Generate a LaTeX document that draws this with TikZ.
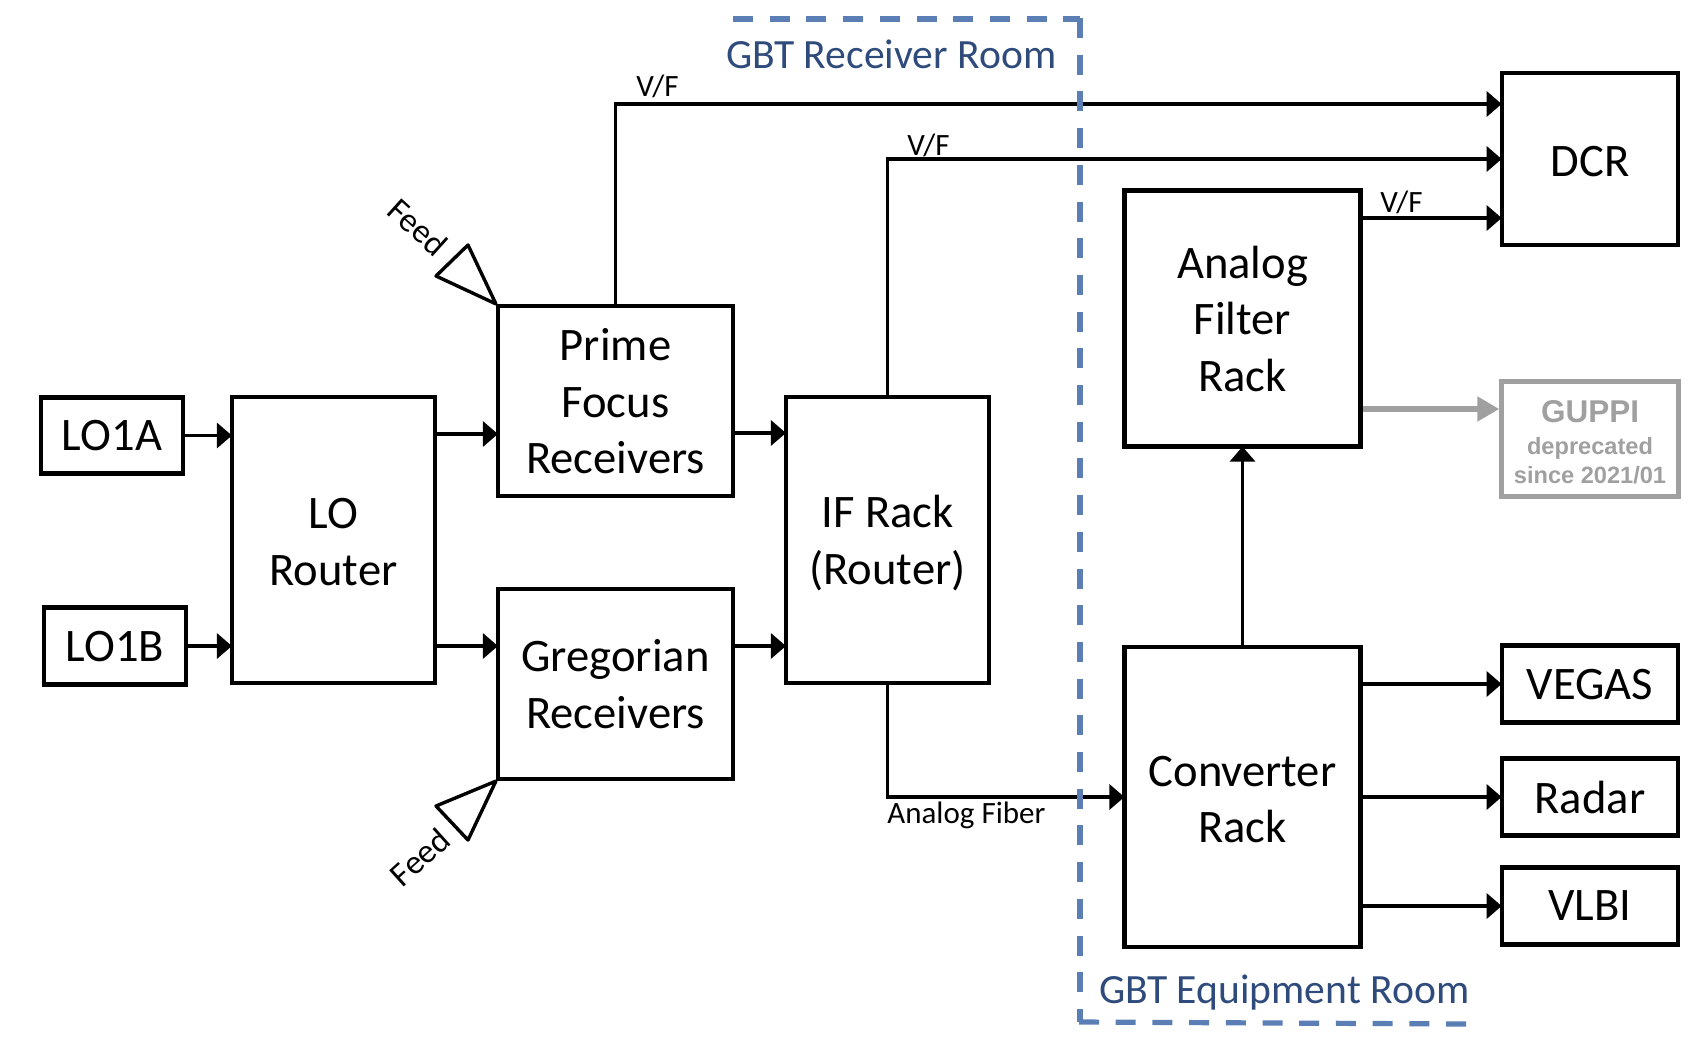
\documentclass[tikz,border=0pt]{standalone}
\usepackage{fontspec}
\setmainfont{Carlito}
\newfontfamily\guppifont{Liberation Sans}
\usetikzlibrary{arrows.meta}
\definecolor{roomblue}{HTML}{5B7FB5}
\definecolor{roomtext}{HTML}{2F4B7C}
\definecolor{oldgray}{HTML}{A0A0A0}
\newcommand{\toppad}[1]{\rule{0pt}{#1}}
\begin{document}
\begin{tikzpicture}[
		x=0.5pt,
		y=-0.5pt,
		block/.style={draw, line width=2.1pt, align=center, inner sep=0pt, text depth=0pt, font=\fontsize{23.3}{28.3}\selectfont},
		wide block/.style={block, minimum width=118pt},
		out block/.style={block, minimum width=88.25pt, minimum height=38.5pt},
		link/.style={line width=1.7pt, shorten >=-1pt, -{Triangle[length=7.5pt, width=12.5pt]}},
		old link/.style={line width=2.6pt, oldgray, -{Triangle[length=11pt, width=12pt]}},
		feed/.style={line width=1.7pt, line join=round},
		small label/.style={anchor=base west, inner sep=0pt, font=\fontsize{15.5}{18}\selectfont},
		feed label/.style={inner sep=0pt, font=\fontsize{17}{20}\selectfont},
		room label/.style={anchor=base west, inner sep=0pt, text=roomtext, font=\fontsize{20.8}{25}\selectfont},
		room line/.style={line width=2.6pt, roomblue, dash pattern=on 10pt off 8.35pt}
		]
	
	\useasboundingbox (0, 0) rectangle (1706, 1044);
	
	% Local oscillators
	\node[block, minimum width=70.75pt, minimum height=38pt] (lo1a) at (112, 435.5) {LO1A};
	\node[block, minimum width=71.25pt, minimum height=38.5pt] (lo1b) at (115, 646) {LO1B};
	\node[block, minimum width=101.5pt, minimum height=143pt] (lorouter) at (333.5, 540) {\toppad{17.2pt}LO\\Router};
	
	% Receivers
	\node[block, minimum width=117.5pt, minimum height=95pt] (prime) at (615.5, 401) {Prime\\Focus\\Receivers};
	\node[block, minimum width=117.5pt, minimum height=95pt] (gregorian) at (615.5, 684) {Gregorian\\Receivers};
	\node[block, minimum width=101.5pt, minimum height=143pt] (ifrack) at (887.5, 540) {IF Rack\\(Router)};
	
	% Equipment room
	\node[wide block, minimum height=128pt] (filter) at (1242.5, 318.5) {Analog\\Filter\\Rack};
	\node[wide block, minimum height=150pt] (converter) at (1242.5, 797) {\toppad{17.5pt}Converter\\Rack};
	
	% Backends
	\node[block, minimum width=88.25pt, minimum height=86pt] (dcr) at (1590, 159) {\toppad{17.2pt}DCR};
	\node[out block] (vegas) at (1590, 684) {VEGAS};
	\node[out block] (radar) at (1590, 797) {Radar};
	\node[out block] (vlbi) at (1590, 906) {VLBI};
	\node[block, draw=oldgray, line width=2.5pt, text=oldgray, minimum width=88.25pt, minimum height=57.5pt, font=\guppifont\bfseries] (guppi) at (1590, 438.5) {%
		{\fontsize{15.75}{15.75}\selectfont\toppad{14.6pt}GUPPI}\\[3.6pt]
		{\fontsize{11.8}{14.5}\selectfont deprecated}\\[2.7pt]
		{\fontsize{11.8}{14.5}\selectfont since 2021/01}};
	
	% Heights of the links that leave a box off centre
	\coordinate (prime in) at (0, 434);
	\coordinate (if in) at (0, 433);
	\coordinate (dcr top) at (0, 104);
	\coordinate (dcr low) at (0, 218);
	\coordinate (guppi in) at (0, 409);
	
	% Links
	\draw[link] (lo1a.east) -- (lorouter.west |- lo1a.east);
	\draw[link] (lo1b.east) -- (lorouter.west |- lo1b.east);
	\draw[link] (lorouter.east |- prime in) -- (prime.west |- prime in);
	\draw[link] (lorouter.east |- lo1b.east) -- (gregorian.west |- lo1b.east);
	\draw[link] (prime.east |- if in) -- (ifrack.west |- if in);
	\draw[link] (gregorian.east |- lo1b.east) -- (ifrack.west |- lo1b.east);
	\draw[link] (prime.north) |- (dcr.west |- dcr top);
	\draw[link] (ifrack.north) |- (dcr.west);
	\draw[link] (filter.east |- dcr low) -- (dcr.west |- dcr low);
	\draw[link] (ifrack.south) |- (converter.west);
	\draw[link] (converter.north) -- (filter.south);
	\draw[link] (converter.east |- vegas.west) -- (vegas.west);
	\draw[link] (converter.east |- radar.west) -- (radar.west);
	\draw[link] (converter.east |- vlbi.west) -- (vlbi.west);
	\draw[old link] (filter.east |- guppi in) -- (guppi.west |- guppi in);
	
	% Feeds
	\coordinate (feed1a) at (468, 245);
	\coordinate (feed1b) at (436, 276);
	\coordinate (feed2a) at (436, 806);
	\coordinate (feed2b) at (468, 840);
	\draw[feed] (prime.north west) -- (feed1a) -- (feed1b) -- cycle;
	\draw[feed] (gregorian.south west) -- (feed2a) -- (feed2b) -- cycle;
	\node[feed label, rotate=-42] (feed1) at (418, 227) {Feed};
	\node[feed label, rotate=42] (feed2) at (420, 857) {Feed};
	
	% Link labels
	\node[small label] (vf1) at (636, 96) {V/F};
	\node[small label] (vf2) at (907, 155) {V/F};
	\node[small label] (vf3) at (1380, 212) {V/F};
	\node[small label] (fiber) at (887, 823) {Analog Fiber};
	
	% Rooms
	\draw[room line] (733, 19) -- (1080, 19);
	\draw[room line] (1080, 18) -- (1080, 1022);
	\draw[room line] (1079, 1022) -- (1468, 1024);
	\node[room label] (receiver room) at (726, 68) {GBT Receiver Room};
	\node[room label] (equipment room) at (1099, 1003) {GBT Equipment Room};
	
\end{tikzpicture}
\end{document}
